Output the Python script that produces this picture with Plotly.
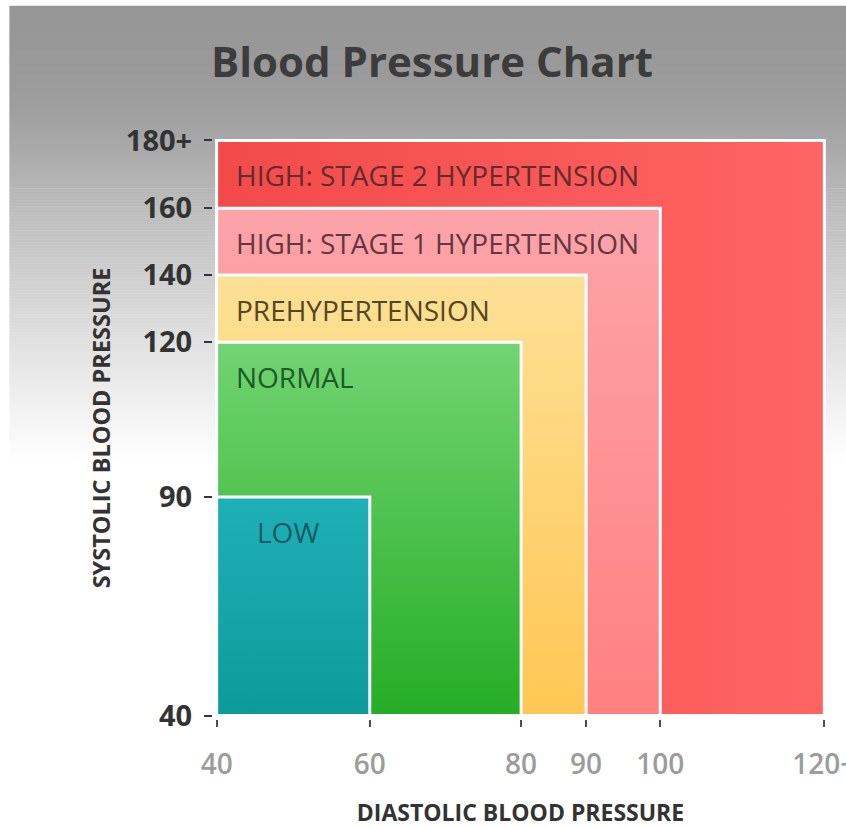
import numpy as np
import plotly.graph_objects as go

# ---- data -------------------------------------------------------------
zones = [
    "HIGH: STAGE 2 HYPERTENSION",
    "HIGH: STAGE 1 HYPERTENSION",
    "PREHYPERTENSION",
    "NORMAL",
    "LOW",
]
systolic_upper = [180, 160, 140, 120, 90]
diastolic_upper = [120, 100, 90, 80, 60]
systolic_floor = 40
diastolic_floor = 40

systolic_ticks = [40, 90, 120, 140, 160, 180]
systolic_labels = ["40", "90", "120", "140", "160", "180+"]
diastolic_ticks = [40, 60, 80, 90, 100, 120]
diastolic_labels = ["40", "60", "80", "90", "100", "120+"]

# ---- axis scales (schematic, piecewise linear) -------------------------
SYS_SCALE = [0.0, 0.380, 0.649, 0.766, 0.882, 1.0]
DIA_SCALE = [0.0, 0.252, 0.501, 0.608, 0.730, 1.0]


def sys_pos(v):
    return float(np.interp(v, systolic_ticks, SYS_SCALE))


def dia_pos(v):
    return float(np.interp(v, diastolic_ticks, DIA_SCALE))


# ---- styling ----------------------------------------------------------
W, H = 846, 828
PX_X0, PX_X1 = 217, 824     # pixel span of the diastolic scale
PX_Y0, PX_Y1 = 716, 140     # pixel span of the systolic scale
PAD = 0.006                 # room for the white borders at the edges

sx = PX_X1 - PX_X0
sy = PX_Y0 - PX_Y1
ml = PX_X0 - sx * PAD
pw = sx * (1 + 2 * PAD)
mr = W - ml - pw
mt = PX_Y1 - sy * PAD
ph = sy * (1 + 2 * PAD)
mb = H - mt - ph

zone_fill = {
    "HIGH: STAGE 2 HYPERTENSION": dict(type="horizontal", colorscale=[[0, "#f24a4a"], [1, "#ff6464"]]),
    "HIGH: STAGE 1 HYPERTENSION": dict(type="vertical", colorscale=[[0, "#ff8080"], [1, "#fca4aa"]]),
    "PREHYPERTENSION": dict(type="vertical", colorscale=[[0, "#ffc654"], [1, "#fde096"]]),
    "NORMAL": dict(type="vertical", colorscale=[[0, "#26ad26"], [1, "#72d472"]]),
    "LOW": dict(type="vertical", colorscale=[[0, "#0e9a9c"], [1, "#1eb0b6"]]),
}
zone_text_color = {
    "HIGH: STAGE 2 HYPERTENSION": "#652a2c",
    "HIGH: STAGE 1 HYPERTENSION": "#66363e",
    "PREHYPERTENSION": "#54461e",
    "NORMAL": "#1d5a28",
    "LOW": "#17596a",
}
zone_label_xshift = {"LOW": 38}

fig = go.Figure()

# nested zones, largest first so the smaller ones sit on top
for name, s_hi, d_hi in zip(zones, systolic_upper, diastolic_upper):
    x0, x1 = dia_pos(diastolic_floor), dia_pos(d_hi)
    y0, y1 = sys_pos(systolic_floor), sys_pos(s_hi)
    fig.add_trace(go.Scatter(
        x=[x0, x1, x1, x0, x0],
        y=[y0, y0, y1, y1, y0],
        mode="lines",
        fill="toself",
        fillgradient=zone_fill[name],
        line=dict(color="white", width=3),
        hoverinfo="skip",
        showlegend=False,
        name=name,
    ))
    fig.add_annotation(
        x=x0, y=y1, xref="x", yref="y",
        text=name, showarrow=False,
        xanchor="left", yanchor="middle",
        xshift=zone_label_xshift.get(name, 17), yshift=-35,
        font=dict(family="Open Sans, sans-serif", size=28,
                  color=zone_text_color[name]),
    )

# grey header fading to white
stops_px = [5, 60, 106, 150, 211, 317, 422, 462]
stops_grey = [150, 153, 158, 170, 189, 218, 245, 255]
for top in np.arange(5, 462, 3):
    bot = top + 3.5
    g = int(round(np.interp(top + 1.5, stops_px, stops_grey)))
    fig.add_shape(
        type="rect", xref="paper", yref="paper", layer="below",
        x0=(10 - ml) / pw, x1=(W + 5 - ml) / pw,
        y0=(H - mb - bot) / ph, y1=(H - mb - top) / ph,
        fillcolor=f"rgb({g},{g},{g})", line=dict(width=0),
    )

fig.update_layout(
    width=W, height=H,
    margin=dict(l=ml, r=mr, t=mt, b=mb, pad=0, autoexpand=False),
    paper_bgcolor="white",
    plot_bgcolor="rgba(0,0,0,0)",
    title=dict(
        text="Blood Pressure Chart",
        x=432 / W, xref="container", xanchor="center",
        y=1 - 62 / H, yref="container", yanchor="middle",
        font=dict(family="Open Sans", size=42, color="#3c3c3c", weight="bold"),
    ),
    xaxis=dict(
        range=[-PAD, 1 + PAD],
        automargin=False,
        tickvals=[dia_pos(v) for v in diastolic_ticks],
        ticktext=diastolic_labels,
        ticks="outside", ticklen=7, tickwidth=2, tickcolor="#4a4f5a",
        ticklabelstandoff=13, ticklabeloverflow="allow",
        showgrid=False, zeroline=False, showline=False,
        tickfont=dict(family="Open Sans", size=28, color="#9c9c9c", weight=600),
        title=dict(text="DIASTOLIC BLOOD PRESSURE", standoff=28,
                   font=dict(family="Open Sans", size=23, color="#333333", weight="bold")),
        fixedrange=True,
    ),
    yaxis=dict(
        range=[-PAD, 1 + PAD],
        automargin=False,
        tickvals=[sys_pos(v) for v in systolic_ticks],
        ticktext=systolic_labels,
        ticks="outside", ticklen=8, tickwidth=2, tickcolor="#333344",
        ticklabelstandoff=6, ticklabeloverflow="allow",
        showgrid=False, zeroline=False, showline=False,
        tickfont=dict(family="Open Sans", size=29, color="#333333", weight="bold"),
        title=dict(text="SYSTOLIC BLOOD PRESSURE", standoff=8,
                   font=dict(family="Open Sans", size=23.5, color="#333333", weight="bold")),
        fixedrange=True,
    ),
)

fig.write_html("out.html")
